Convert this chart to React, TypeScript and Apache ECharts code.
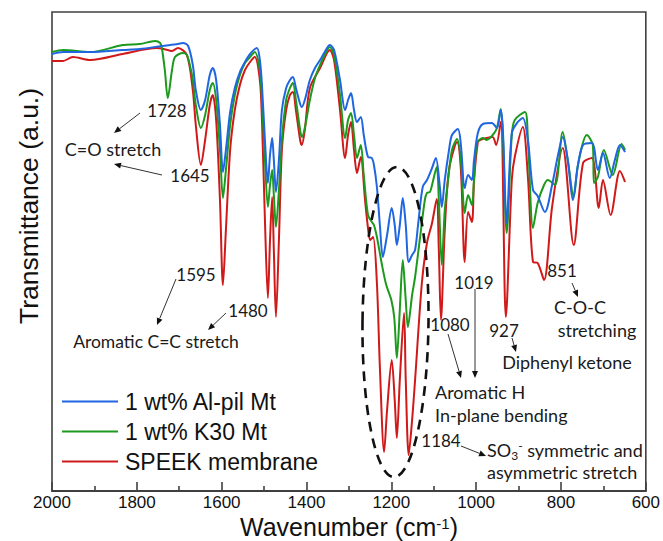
import React, { useEffect, useRef } from "react";
import * as echarts from "echarts";

// ---------- data (wavenumber in cm-1, transmittance in arbitrary units) ----------
const xTickLabels = [2000, 1800, 1600, 1400, 1200, 1000, 800, 600];

const blueWn = [2000, 1974, 1910, 1833, 1793, 1741, 1703, 1691, 1679, 1668, 1661, 1649, 1639, 1628, 1621, 1613, 1604, 1597, 1590, 1580, 1569, 1557, 1545, 1533, 1517, 1510, 1505, 1498, 1491, 1486, 1481, 1477, 1472, 1465, 1458, 1448, 1439, 1432, 1425, 1415, 1411, 1404, 1392, 1380, 1368, 1357, 1345, 1335, 1321, 1309, 1302, 1295, 1288, 1281, 1272, 1265, 1255, 1246, 1241, 1234, 1227, 1220, 1210, 1199, 1192, 1187, 1180, 1173, 1166, 1159, 1151, 1144, 1137, 1126, 1116, 1104, 1095, 1086, 1081, 1074, 1064, 1057, 1043, 1036, 1027, 1019, 1010, 1005, 996, 984, 963, 951, 942, 937, 928, 916, 902, 890, 878, 866, 855, 838, 821, 807, 796, 784, 772, 760, 748, 727, 713, 701, 685, 673, 661, 649];
const blueT = [437, 439, 439, 441, 442, 445, 447, 448, 445, 426, 401, 381, 391, 416, 423, 411, 366, 319, 341, 379, 403, 419, 429, 437, 443, 431, 406, 351, 308, 336, 353, 331, 299, 331, 381, 403, 411, 414, 403, 387, 384, 391, 411, 423, 431, 439, 446, 441, 411, 381, 391, 398, 381, 369, 374, 356, 334, 333, 326, 304, 266, 234, 256, 283, 266, 246, 266, 293, 266, 229, 236, 241, 266, 304, 311, 323, 333, 306, 284, 311, 341, 356, 362, 346, 303, 316, 311, 331, 358, 367, 368, 363, 381, 361, 268, 358, 369, 373, 351, 301, 295, 279, 306, 336, 354, 331, 291, 326, 346, 348, 321, 338, 313, 331, 346, 339];

const greenWn = [2000, 1974, 1910, 1833, 1793, 1757, 1745, 1741, 1734, 1727, 1717, 1710, 1691, 1682, 1675, 1668, 1661, 1649, 1639, 1628, 1621, 1613, 1604, 1597, 1590, 1580, 1569, 1557, 1545, 1533, 1522, 1510, 1505, 1498, 1491, 1486, 1481, 1477, 1472, 1465, 1458, 1448, 1439, 1432, 1425, 1415, 1411, 1404, 1392, 1380, 1368, 1357, 1345, 1335, 1321, 1309, 1302, 1295, 1288, 1281, 1272, 1265, 1255, 1246, 1241, 1234, 1222, 1212, 1200, 1193, 1187, 1180, 1173, 1166, 1161, 1151, 1144, 1133, 1121, 1116, 1109, 1104, 1093, 1088, 1081, 1074, 1067, 1057, 1045, 1036, 1027, 1019, 1010, 1005, 998, 984, 975, 961, 951, 942, 937, 928, 916, 909, 885, 878, 866, 855, 840, 831, 814, 796, 784, 770, 760, 739, 725, 722, 713, 699, 678, 657, 649];
const greenT = [439, 441, 439, 446, 447, 450, 448, 443, 421, 393, 421, 434, 438, 436, 426, 411, 386, 363, 376, 401, 408, 391, 341, 293, 321, 366, 396, 416, 428, 434, 439, 421, 391, 331, 284, 306, 321, 296, 264, 301, 351, 391, 403, 408, 391, 361, 354, 363, 391, 413, 426, 436, 444, 436, 396, 353, 371, 378, 356, 333, 346, 316, 276, 269, 266, 254, 226, 206, 191, 173, 133, 181, 231, 191, 164, 196, 214, 251, 291, 298, 299, 306, 324, 291, 226, 281, 308, 341, 352, 331, 278, 296, 286, 311, 348, 353, 351, 356, 363, 382, 356, 258, 356, 371, 379, 351, 263, 288, 306, 311, 306, 359, 331, 294, 326, 356, 346, 308, 314, 341, 316, 347, 341];

const redWn = [2000, 1974, 1951, 1910, 1833, 1753, 1727, 1717, 1703, 1682, 1668, 1661, 1649, 1639, 1628, 1621, 1613, 1604, 1597, 1590, 1580, 1569, 1557, 1545, 1533, 1522, 1510, 1505, 1498, 1491, 1486, 1481, 1477, 1472, 1465, 1458, 1448, 1439, 1432, 1425, 1415, 1411, 1404, 1392, 1368, 1345, 1335, 1321, 1309, 1302, 1295, 1288, 1281, 1272, 1262, 1255, 1250, 1243, 1234, 1227, 1217, 1210, 1199, 1192, 1187, 1180, 1170, 1166, 1159, 1151, 1144, 1128, 1116, 1104, 1093, 1088, 1083, 1074, 1064, 1045, 1036, 1027, 1019, 1010, 1005, 996, 991, 975, 961, 953, 942, 930, 916, 909, 890, 878, 866, 855, 840, 821, 796, 770, 748, 727, 711, 701, 683, 661, 649];
const redT = [430, 430, 434, 431, 437, 443, 441, 440, 443, 436, 401, 366, 326, 351, 386, 396, 371, 291, 206, 261, 341, 381, 406, 421, 429, 434, 411, 371, 271, 193, 251, 294, 241, 174, 251, 341, 381, 396, 399, 381, 351, 346, 361, 403, 423, 441, 431, 381, 333, 356, 369, 341, 318, 334, 291, 263, 251, 254, 208, 124, 39, 81, 131, 91, 53, 111, 178, 111, 36, 71, 111, 208, 248, 268, 292, 241, 171, 261, 321, 349, 321, 229, 279, 269, 311, 349, 351, 353, 354, 346, 369, 174, 311, 334, 364, 314, 229, 228, 211, 284, 343, 246, 328, 333, 283, 311, 276, 320, 309];

const seriesNames = ["1 wt% Al-pil Mt", "1 wt% K30 Mt", "SPEEK membrane"];
const seriesColors = ["#1f66e0", "#1d9a1d", "#d01a1a"];

const zip = (xs: number[], ys: number[]) => xs.map((x, i) => [x, ys[i]]);

const TXT = "#1a1a1a";
const ANN_FONT = "Lato, 'Open Sans', sans-serif";
const AX_FONT = "'Liberation Sans', Arial, sans-serif";

function arrow(x1: number, y1: number, x2: number, y2: number) {
  const dx = x2 - x1;
  const dy = y2 - y1;
  const len = Math.sqrt(dx * dx + dy * dy);
  const ux = dx / len;
  const uy = dy / len;
  const h = 7;
  const w = 3;
  const bx = x2 - ux * h;
  const by = y2 - uy * h;
  return [
    {
      type: "line",
      shape: { x1, y1, x2: bx, y2: by },
      style: { stroke: "#333", lineWidth: 1 },
      silent: true,
    },
    {
      type: "polygon",
      shape: {
        points: [
          [x2, y2],
          [bx - uy * w, by + ux * w],
          [bx + uy * w, by - ux * w],
        ],
      },
      style: { fill: "#111" },
      silent: true,
    },
  ];
}

function label(text: string, x: number, y: number, size = 17, align = "center") {
  return {
    type: "text",
    x,
    y,
    silent: true,
    style: {
      text,
      fontSize: size,
      fontFamily: ANN_FONT,
      fill: TXT,
      align,
      verticalAlign: "middle",
    },
  };
}

export default function App() {
  const ref = useRef<HTMLDivElement>(null);

  useEffect(() => {
    document.body.style.margin = "0";
    if (!ref.current) return;
    const chart = echarts.init(ref.current, undefined, { renderer: "svg" });

    const datasets = [zip(blueWn, blueT), zip(greenWn, greenT), zip(redWn, redT)];
    const order = [2, 1, 0];

    const graphic: any[] = [
      // dashed ellipse around SO3- bands
      {
        type: "ellipse",
        x: 395.5,
        y: 322,
        rotation: -0.01,
        shape: { cx: 0, cy: 0, rx: 33, ry: 155 },
        style: { fill: "none", stroke: "#111", lineWidth: 2.6, lineDash: [10, 7] },
        silent: true,
        z: 10,
      },
      label("1728", 167, 110),
      ...arrow(140, 113, 114, 133),
      label("C=O stretch", 113, 149, 18),
      ...arrow(162, 175, 114, 164),
      label("1645", 190, 175),
      label("1595", 196, 274),
      ...arrow(176, 279, 157, 325),
      label("1480", 248, 310),
      ...arrow(226, 313, 208, 330),
      label("Aromatic C=C stretch", 156, 341, 17.5),
      label("1019", 474, 282),
      ...arrow(475, 289, 475, 378),
      label("1080", 450, 324),
      ...arrow(448, 334, 461, 378),
      label("927", 504, 330),
      ...arrow(512, 338, 516, 352),
      label("Diphenyl ketone", 567, 362, 18),
      label("851", 562, 270),
      ...arrow(572, 283, 578, 297),
      label("C-O-C", 580, 307, 18),
      label("stretching", 597, 330, 18),
      label("Aromatic H", 435, 392, 18, "left"),
      label("In-plane bending", 435, 415, 18, "left"),
      label("1184", 441, 440),
      ...arrow(461, 446, 486, 456),
      {
        type: "text",
        x: 487,
        y: 450,
        silent: true,
        style: {
          text: "{a|SO}{sub|3}{sup|-}{a| symmetric and}",
          fontFamily: ANN_FONT,
          fill: TXT,
          align: "left",
          verticalAlign: "middle",
          rich: {
            a: { fontSize: 18, fontFamily: ANN_FONT, fill: TXT, lineHeight: 22, verticalAlign: "middle" },
            sub: { fontSize: 12, fontFamily: ANN_FONT, fill: TXT, lineHeight: 12, verticalAlign: "bottom" },
            sup: { fontSize: 12, fontFamily: ANN_FONT, fill: TXT, lineHeight: 12, verticalAlign: "top" },
          },
        },
      },
      label("asymmetric stretch", 487, 472, 18, "left"),
      // axis titles
      {
        type: "text",
        x: 29,
        y: 206,
        rotation: Math.PI / 2,
        silent: true,
        style: {
          text: "Transmittance (a.u.)",
          fontSize: 26.5,
          fontFamily: AX_FONT,
          fill: "#111",
          align: "center",
          verticalAlign: "middle",
        },
      },
      {
        type: "text",
        x: 349,
        y: 526.5,
        silent: true,
        style: {
          text: "{a|Wavenumber (cm}{b|-1}{a|)}",
          align: "center",
          verticalAlign: "middle",
          rich: {
            a: { fontSize: 25, fontFamily: AX_FONT, fill: "#111", lineHeight: 21, verticalAlign: "middle" },
            b: { fontSize: 15, fontFamily: AX_FONT, fill: "#111", lineHeight: 10, verticalAlign: "top" },
          },
        },
      },
    ];

    chart.setOption({
      animation: false,
      backgroundColor: "#ffffff",
      grid: {
        left: 52,
        right: 17,
        top: 12,
        bottom: 50,
        show: true,
        borderColor: "#404040",
        borderWidth: 1.6,
        backgroundColor: "transparent",
      },
      legend: {
        orient: "vertical",
        left: 62,
        top: 390,
        padding: 0,
        icon: "rect",
        itemWidth: 56,
        itemHeight: 2,
        itemGap: 7,
        data: seriesNames,
        textStyle: {
          fontSize: 23,
          fontFamily: AX_FONT,
          color: "#111",
          lineHeight: 23,
          padding: [0, 0, 0, 2],
        },
      },
      xAxis: {
        type: "value",
        inverse: true,
        min: 600,
        max: 2000,
        interval: 200,
        axisLine: { show: true, lineStyle: { color: "#404040", width: 2 } },
        axisTick: { show: true, inside: true, length: 9, lineStyle: { color: "#404040", width: 1.6 } },
        minorTick: { show: true, splitNumber: 2, length: 5, lineStyle: { color: "#404040", width: 1.6 } },
        splitLine: { show: false },
        axisLabel: {
          fontSize: 17,
          fontFamily: AX_FONT,
          color: "#111",
          margin: 3,
          lineHeight: 17,
          formatter: (v: number) => (xTickLabels.includes(v) ? String(v) : ""),
        },
      },
      yAxis: {
        type: "value",
        min: 0,
        max: 479,
        axisLine: { show: false },
        axisTick: { show: false },
        axisLabel: { show: false },
        splitLine: { show: false },
      },
      graphic,
      series: order.map((i) => ({
        name: seriesNames[i],
        type: "line",
        data: datasets[i],
        showSymbol: false,
        symbol: "none",
        smooth: 0.3,
        color: seriesColors[i],
        lineStyle: { color: seriesColors[i], width: 2 },
        z: 2 + (2 - i),
      })),
    });

    return () => {
      chart.dispose();
    };
  }, []);

  return <div ref={ref} style={{ width: 663, height: 541 }} />;
}
